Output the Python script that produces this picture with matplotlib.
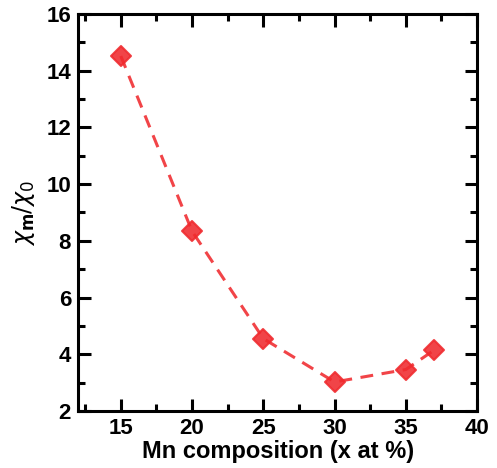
import matplotlib
matplotlib.use("Agg")
import matplotlib.pyplot as plt
from matplotlib.markers import MarkerStyle
from matplotlib.ticker import MultipleLocator

plt.rcParams["font.family"] = ["Liberation Sans", "DejaVu Sans"]
plt.rcParams["mathtext.fontset"] = "dejavusans"

mn_x = [15, 20, 25, 30, 35, 37]
chi_ratio = [14.52, 8.34, 4.55, 3.02, 3.46, 4.15]

RED = "#f02a2e"

fig = plt.figure(figsize=(4.97, 4.68), dpi=100)
ax = fig.add_axes([0.157, 0.122, 0.803, 0.848])

ax.plot(mn_x, chi_ratio, ls=(0, (4.2, 2.8)), color=RED, lw=2.2,
        marker=MarkerStyle("D", joinstyle="round"), ms=10, mfc=RED,
        mec=RED, mew=1.5, alpha=0.88)

ax.set_xlim(12, 40)
ax.set_ylim(2, 16)
ax.xaxis.set_major_locator(MultipleLocator(5))
ax.xaxis.set_minor_locator(MultipleLocator(2.5))
ax.yaxis.set_major_locator(MultipleLocator(2))
ax.yaxis.set_minor_locator(MultipleLocator(1))
ax.tick_params(which="both", direction="in", top=True, right=True,
               width=2.2, labelsize=16, pad=5)
ax.tick_params(which="major", length=9)
ax.tick_params(which="minor", length=5)
for lab in ax.get_xticklabels() + ax.get_yticklabels():
    lab.set_fontweight("bold")
for s in ax.spines.values():
    s.set_linewidth(2.2)

ax.set_xlabel("Mn composition (x at %)", fontsize=17, fontweight="bold",
              labelpad=1)
ax.set_ylabel(r"$\chi_\mathbf{m}/\chi_0$", fontsize=17, labelpad=7)

fig.savefig("out.png", dpi=100, facecolor="white")
